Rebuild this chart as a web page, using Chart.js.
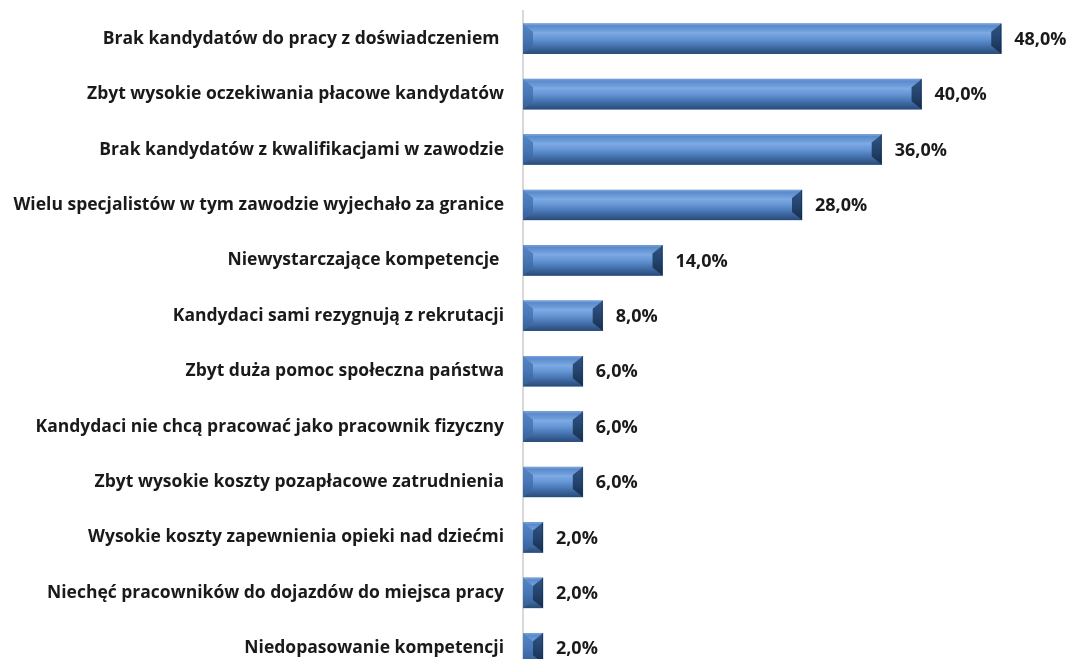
<!DOCTYPE html>
<html><head><meta charset="utf-8">
<script src="https://cdn.jsdelivr.net/npm/chart.js@4"></script>
<style>html,body{margin:0;padding:0;background:#fff;overflow:hidden}#wrap{width:1072px;height:659px;overflow:hidden;position:relative}#wrap canvas{position:absolute;left:0;top:0}</style>
</head><body><div id="wrap"><canvas id="c" width="1072" height="676"></canvas></div>
<script>
const categories = [
  "Brak kandydatów do pracy z doświadczeniem ",
  "Zbyt wysokie oczekiwania płacowe kandydatów",
  "Brak kandydatów z kwalifikacjami w zawodzie",
  "Wielu specjalistów w tym zawodzie wyjechało za granice",
  "Niewystarczające kompetencje ",
  "Kandydaci sami rezygnują z rekrutacji",
  "Zbyt duża pomoc społeczna państwa",
  "Kandydaci nie chcą pracować jako pracownik fizyczny",
  "Zbyt wysokie koszty pozapłacowe zatrudnienia",
  "Wysokie koszty zapewnienia opieki nad dziećmi",
  "Niechęć pracowników do dojazdów do miejsca pracy",
  "Niedopasowanie kompetencji"
];
const values = [48, 40, 36, 28, 14, 8, 6, 6, 6, 2, 2, 2];

const FONT = "'Open Sans', Lato, sans-serif";

function vgrad(ctx, T, B, stops) {
  const g = ctx.createLinearGradient(0, T, 0, B);
  stops.forEach(s => g.addColorStop(s[0], s[1]));
  return g;
}
function poly(ctx, pts, fill) {
  ctx.fillStyle = fill;
  ctx.beginPath();
  ctx.moveTo(pts[0][0], pts[0][1]);
  for (let k = 1; k < pts.length; k++) ctx.lineTo(pts[k][0], pts[k][1]);
  ctx.closePath();
  ctx.fill();
}

const bevelPlugin = {
  id: 'bevel',
  afterDatasetsDraw(chart) {
    const ctx = chart.ctx;
    const meta = chart.getDatasetMeta(0);
    meta.data.forEach((el, i) => {
      const L = Math.min(el.base, el.x), R = Math.max(el.base, el.x);
      const T = el.y - el.height / 2, B = el.y + el.height / 2, M = el.y;
      const w = R - L, h = B - T;
      const b = Math.min(10, w / 2);
      const t = 8;
      ctx.save();
      // face
      ctx.fillStyle = vgrad(ctx, T, B, [[0, '#5d8dcd'], [0.3, '#7eaae4'], [0.5, '#6595d4'], [0.7, '#4a78b6'], [1, '#34598b']]);
      ctx.fillRect(L, T, w, h);
      // top bevel
      poly(ctx, [[L, T], [R, T], [R - b, T + t], [L + b, T + t]], vgrad(ctx, T, T + t, [[0, '#7ea9e3'], [0.25, '#5a8acb'], [1, '#74a2de']]));
      // bottom bevel
      poly(ctx, [[L, B], [R, B], [R - b, B - t], [L + b, B - t]], vgrad(ctx, B - t, B, [[0, '#4472ae'], [1, '#2a4b78']]));
      // left bevel
      poly(ctx, [[L, T], [L + b, T + t], [L + b, B - t], [L, B]], vgrad(ctx, T, B, [[0, '#5585c5'], [0.5, '#4777b6'], [1, '#355e94']]));
      // right bevel
      poly(ctx, [[R, T], [R - b, T + t], [R - b, B - t], [R, B]], vgrad(ctx, T, B, [[0, '#305485'], [0.5, '#24446e'], [1, '#182e4b']]));
      ctx.fillStyle = 'rgba(20,35,60,0.5)';
      ctx.fillRect(R - 1, T, 1, h);
      // value label
      ctx.fillStyle = '#1a1a1a';
      ctx.font = "bold 18px " + FONT;
      ctx.textAlign = 'left';
      ctx.textBaseline = 'middle';
      ctx.fillText(values[i].toFixed(1).replace('.', ',') + '%', R + 13, M + 1);
      ctx.restore();
    });
  }
};

new Chart(document.getElementById('c'), {
  type: 'bar',
  data: {
    labels: categories,
    datasets: [{
      data: values,
      backgroundColor: '#4f81bd',
      borderWidth: 0,
      barThickness: 30
    }]
  },
  options: {
    indexAxis: 'y',
    responsive: false,
    animation: false,
    events: [],
    layout: { padding: { top: 11, right: 1, bottom: 0, left: 0 } },
    plugins: { legend: { display: false }, tooltip: { enabled: false } },
    scales: {
      x: { display: false, min: 0, max: 55 },
      y: {
        afterFit(scale) { scale.width = 523; scale.paddingTop = 0; scale.paddingBottom = 0; },
        grid: { display: false, drawTicks: false },
        border: { display: true, color: '#d9d9d9', width: 2 },
        ticks: { color: '#1a1a1a', padding: 19, font: { family: FONT, size: 17.5, weight: 'bold' } }
      }
    }
  },
  plugins: [bevelPlugin]
});
</script>
</body></html>
